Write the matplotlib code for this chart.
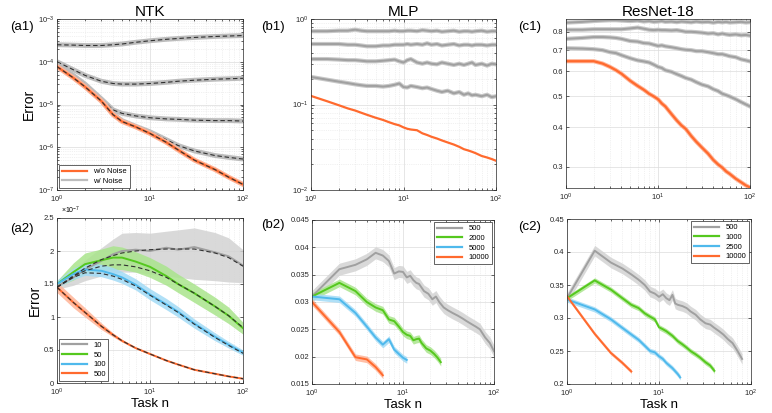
import numpy as np
import matplotlib
matplotlib.use('Agg')
import matplotlib.pyplot as plt
from matplotlib.ticker import FixedLocator, NullFormatter, FormatStrFormatter, LogLocator

plt.rcParams['font.family'] = ['Liberation Sans', 'DejaVu Sans']
plt.rcParams['mathtext.fontset'] = 'custom'
plt.rcParams['mathtext.rm'] = 'Liberation Sans'

ORANGE = '#ff6a2e'
GREEN = '#55c81e'
BLUE = '#4fb9ec'
GRAY = '#a0a0a0'

# ---------------- (a1) NTK, noise levels ----------------
a1_x = [1, 1.5, 2, 3, 4, 5, 7, 10, 15, 20, 30, 50, 70, 100]
a1_clean = [7.7e-5, 4.2e-5, 2.6e-5, 1.2e-5, 5.8e-6, 4.0e-6, 3.0e-6, 2.1e-6,
            1.3e-6, 8.7e-7, 5.0e-7, 3.0e-7, 2.0e-7, 1.35e-7]
a1_noise = [
    [2.5e-4, 2.45e-4, 2.4e-4, 2.4e-4, 2.5e-4, 2.6e-4, 2.85e-4, 3.1e-4, 3.35e-4, 3.5e-4, 3.7e-4, 3.9e-4, 4.0e-4, 4.1e-4],
    [1.0e-4, 6.5e-5, 4.8e-5, 3.5e-5, 3.1e-5, 3.0e-5, 3.0e-5, 3.1e-5, 3.3e-5, 3.5e-5, 3.7e-5, 3.9e-5, 4.0e-5, 4.1e-5],
    [8.5e-5, 4.8e-5, 3.0e-5, 1.35e-5, 7.5e-6, 6.2e-6, 5.4e-6, 4.9e-6, 4.6e-6, 4.5e-6, 4.3e-6, 4.2e-6, 4.2e-6, 4.1e-6],
    [8.2e-5, 4.4e-5, 2.7e-5, 1.25e-5, 6.0e-6, 4.2e-6, 3.1e-6, 2.3e-6, 1.5e-6, 1.1e-6, 8.2e-7, 6.4e-7, 5.8e-7, 5.3e-7],
]

# ---------------- (a2) NTK, widths (units of 1e-7) ----------------
a2_x = [1, 1.5, 2, 3, 4, 5, 7, 10, 15, 20, 30, 50, 70, 100]
a2_labels = ['10', '50', '100', '500']
a2_mean = [
    [1.46, 1.6, 1.72, 1.85, 1.95, 2.0, 2.02, 2.0, 2.05, 2.02, 2.06, 1.98, 1.92, 1.78],
    [1.5, 1.68, 1.8, 1.86, 1.9, 1.9, 1.84, 1.76, 1.62, 1.5, 1.36, 1.16, 1.02, 0.83],
    [1.5, 1.65, 1.72, 1.7, 1.65, 1.6, 1.49, 1.34, 1.19, 1.08, 0.9, 0.7, 0.58, 0.46],
    [1.45, 1.22, 1.07, 0.86, 0.73, 0.64, 0.53, 0.44, 0.34, 0.28, 0.2, 0.14, 0.1, 0.065],
]
a2_low = [
    [1.42, 1.48, 1.55, 1.62, 1.66, 1.68, 1.68, 1.65, 1.62, 1.6, 1.57, 1.55, 1.53, 1.52],
    [1.46, 1.56, 1.66, 1.7, 1.72, 1.72, 1.68, 1.6, 1.48, 1.37, 1.22, 1.03, 0.9, 0.74],
    [1.45, 1.57, 1.63, 1.61, 1.56, 1.51, 1.41, 1.26, 1.11, 1.0, 0.83, 0.64, 0.53, 0.42],
    [1.37, 1.14, 1.0, 0.81, 0.7, 0.62, 0.52, 0.43, 0.335, 0.275, 0.197, 0.137, 0.098, 0.063],
]
a2_high = [
    [1.5, 1.72, 1.86, 2.05, 2.18, 2.27, 2.28, 2.27, 2.3, 2.32, 2.35, 2.28, 2.2, 2.02],
    [1.55, 1.82, 1.97, 2.03, 2.08, 2.06, 1.99, 1.9, 1.77, 1.65, 1.5, 1.3, 1.15, 0.92],
    [1.56, 1.74, 1.82, 1.8, 1.75, 1.69, 1.58, 1.43, 1.28, 1.16, 0.97, 0.76, 0.63, 0.5],
    [1.53, 1.3, 1.14, 0.91, 0.76, 0.66, 0.54, 0.45, 0.345, 0.285, 0.203, 0.143, 0.102, 0.067],
]
a2_theory = [
    [1.45, 1.62, 1.74, 1.87, 1.93, 1.97, 2.0, 2.02, 2.03, 2.03, 2.03, 1.97, 1.9, 1.77],
    [1.45, 1.62, 1.7, 1.77, 1.79, 1.79, 1.76, 1.7, 1.6, 1.5, 1.36, 1.16, 1.02, 0.84],
    [1.45, 1.6, 1.67, 1.66, 1.62, 1.57, 1.47, 1.33, 1.18, 1.07, 0.89, 0.69, 0.57, 0.45],
    [1.45, 1.22, 1.07, 0.86, 0.73, 0.64, 0.53, 0.44, 0.34, 0.28, 0.2, 0.14, 0.1, 0.065],
]

# ---------------- (b1) MLP / (c1) ResNet-18 ----------------
t_x = [1, 1.5, 2, 2.5, 3, 3.5, 4, 5, 6, 7, 8, 9, 10, 11, 12, 14, 16, 18, 20, 23,
       26, 30, 35, 40, 45, 50, 55, 60, 70, 80, 90, 100]
b1_clean = [0.126, 0.109, 0.098, 0.090, 0.085, 0.080, 0.076, 0.070, 0.066, 0.062,
            0.059, 0.057, 0.054, 0.052, 0.051, 0.050, 0.046, 0.044, 0.042, 0.040,
            0.038, 0.036, 0.034, 0.032, 0.030, 0.029, 0.028, 0.027, 0.025, 0.024,
            0.023, 0.022]
b1_noise = [
    [0.72, 0.72, 0.73, 0.73, 0.75, 0.73, 0.72, 0.72, 0.72, 0.72, 0.73, 0.72, 0.72, 0.73, 0.73, 0.72,
     0.74, 0.73, 0.72, 0.73, 0.71, 0.72, 0.73, 0.71, 0.72, 0.72, 0.71, 0.72, 0.73, 0.71, 0.72, 0.72],
    [0.51, 0.51, 0.51, 0.5, 0.5, 0.49, 0.48, 0.48, 0.49, 0.49, 0.5, 0.5, 0.5, 0.51, 0.5, 0.51,
     0.5, 0.52, 0.5, 0.51, 0.49, 0.5, 0.51, 0.49, 0.5, 0.5, 0.49, 0.5, 0.5, 0.49, 0.5, 0.5],
    [0.34, 0.34, 0.335, 0.33, 0.33, 0.325, 0.32, 0.32, 0.325, 0.33, 0.335, 0.32, 0.31, 0.33, 0.34, 0.31,
     0.3, 0.31, 0.3, 0.295, 0.31, 0.3, 0.29, 0.3, 0.29, 0.3, 0.31, 0.29, 0.3, 0.285, 0.3, 0.295],
    [0.21, 0.195, 0.185, 0.178, 0.172, 0.168, 0.165, 0.165, 0.162, 0.165, 0.17, 0.176, 0.16, 0.158, 0.165, 0.16,
     0.155, 0.158, 0.152, 0.145, 0.14, 0.145, 0.135, 0.14, 0.13, 0.135, 0.128, 0.13, 0.125, 0.13, 0.122, 0.125],
]
c1_clean = [0.646, 0.646, 0.646, 0.635, 0.62, 0.605, 0.59, 0.56, 0.54, 0.525, 0.51, 0.5,
            0.49, 0.475, 0.465, 0.44, 0.42, 0.405, 0.395, 0.375, 0.36, 0.345, 0.33, 0.315,
            0.305, 0.298, 0.29, 0.285, 0.275, 0.268, 0.262, 0.258]
c1_noise = [
    [0.855, 0.86, 0.865, 0.868, 0.87, 0.87, 0.868, 0.865, 0.868, 0.862, 0.865, 0.86, 0.862, 0.865, 0.86, 0.862,
     0.858, 0.862, 0.86, 0.857, 0.862, 0.858, 0.86, 0.855, 0.86, 0.857, 0.86, 0.856, 0.858, 0.86, 0.856, 0.858],
    [0.812, 0.812, 0.815, 0.815, 0.815, 0.815, 0.815, 0.82, 0.825, 0.818, 0.812, 0.81, 0.812, 0.81, 0.81, 0.808,
     0.81, 0.805, 0.8, 0.8, 0.798, 0.795, 0.79, 0.792, 0.785, 0.79, 0.785, 0.782, 0.785, 0.78, 0.782, 0.778],
    [0.76, 0.765, 0.77, 0.77, 0.768, 0.765, 0.76, 0.748, 0.745, 0.737, 0.735, 0.728, 0.722, 0.725, 0.72, 0.715,
     0.71, 0.705, 0.702, 0.7, 0.695, 0.695, 0.69, 0.685, 0.68, 0.68, 0.675, 0.67, 0.665, 0.655, 0.65, 0.645],
    [0.71, 0.708, 0.705, 0.7, 0.69, 0.685, 0.675, 0.66, 0.65, 0.645, 0.64, 0.63, 0.62, 0.615, 0.605, 0.598,
     0.588, 0.58, 0.572, 0.565, 0.555, 0.545, 0.538, 0.527, 0.52, 0.51, 0.505, 0.5, 0.49, 0.48, 0.472, 0.465],
]

# ---------------- (b2) MLP, sample sizes ----------------
b2_labels = ['500', '2000', '5000', '10000']
b2_x = [
    [1, 2, 3, 4, 5, 6, 7, 8, 9, 10, 11, 12, 13, 14, 15, 17, 19, 21, 23, 25, 28, 31, 35, 40, 45, 50, 56, 63, 70, 80, 90, 100],
    [1, 2, 3, 4, 5, 6, 7, 8, 9, 10, 11, 12, 13, 14, 15, 16, 17, 18, 20, 22, 24, 26],
    [1, 2, 3, 4, 5, 6, 7, 8, 9, 10, 11],
    [1, 2, 3, 4, 5, 6],
]
b2_y = [
    [0.031, 0.036, 0.0368, 0.0378, 0.039, 0.0385, 0.0375, 0.0352, 0.0356, 0.0355, 0.0345, 0.0348, 0.034, 0.0335,
     0.0333, 0.032, 0.0315, 0.0305, 0.031, 0.030, 0.029, 0.0285, 0.028, 0.0275, 0.027, 0.0265, 0.026, 0.0255,
     0.025, 0.0235, 0.0225, 0.021],
    [0.031, 0.0335, 0.032, 0.030, 0.029, 0.0285, 0.0268, 0.0265, 0.0255, 0.0245, 0.024, 0.0238, 0.023, 0.0232,
     0.0233, 0.0225, 0.022, 0.0215, 0.0211, 0.0205, 0.0198, 0.019],
    [0.031, 0.0305, 0.028, 0.0255, 0.0235, 0.0222, 0.0232, 0.0213, 0.0205, 0.0198, 0.0194],
    [0.030, 0.0245, 0.0199, 0.0195, 0.0181, 0.0166],
]
b2_band = [0.0011, 0.0007, 0.0006, 0.0006]

# ---------------- (c2) ResNet-18, sample sizes ----------------
c2_labels = ['500', '1000', '2500', '10000']
c2_x = [
    [1, 2, 3, 4, 5, 6, 7, 8, 9, 10, 11, 12, 13, 14, 15, 16, 18, 20, 22, 25, 28, 32, 36, 40, 45, 50, 56, 63, 70, 80],
    [1, 2, 3, 4, 5, 6, 7, 8, 9, 10, 11, 12, 14, 16, 18, 20, 22, 25, 28, 32, 36, 40],
    [1, 2, 3, 4, 5, 6, 7, 8, 9, 10, 11, 12, 14, 16, 17],
    [1, 2, 3, 4, 5],
]
c2_y = [
    [0.33, 0.402, 0.384, 0.375, 0.366, 0.358, 0.35, 0.34, 0.337, 0.332, 0.336, 0.33, 0.327, 0.335, 0.322,
     0.32, 0.318, 0.315, 0.31, 0.305, 0.298, 0.292, 0.29, 0.285, 0.28, 0.275, 0.268, 0.262, 0.252, 0.238],
    [0.33, 0.357, 0.343, 0.33, 0.32, 0.315, 0.307, 0.302, 0.298, 0.286, 0.283, 0.28, 0.273, 0.265, 0.26,
     0.255, 0.25, 0.245, 0.24, 0.233, 0.228, 0.22],
    [0.328, 0.313, 0.298, 0.285, 0.275, 0.267, 0.258, 0.25, 0.248, 0.242, 0.238, 0.232, 0.224, 0.215, 0.21],
    [0.333, 0.276, 0.247, 0.232, 0.219],
]
c2_band = [0.008, 0.004, 0.004, 0.003]

colors4 = [GRAY, GREEN, BLUE, ORANGE]
bands4 = ['#d3d3d3', '#a9e48c', '#a3dbf6', '#ffb497']

W, H = 772, 413
fig = plt.figure(figsize=(W / 100, H / 100), dpi=100)


def box(l, t, r, b):
    return fig.add_axes([l / W, 1 - b / H, (r - l) / W, (b - t) / H])


ax_a1 = box(57, 19, 243, 190)
ax_b1 = box(311, 19, 496, 190)
ax_c1 = box(566, 19, 750, 188)
ax_a2 = box(57, 218, 243, 383)
ax_b2 = box(312, 220, 494, 384)
ax_c2 = box(567, 219, 751, 384)


def style(ax, logy):
    ax.set_xscale('log')
    if logy:
        ax.set_yscale('log')
    ax.set_xlim(1, 100)
    ax.tick_params(which='both', direction='in', top=True, right=True, labelsize=5.5,
                   width=0.5, colors='#262626', pad=2)
    ax.tick_params(axis='x', which='both', pad=3)
    ax.tick_params(which='major', length=2.5)
    ax.tick_params(which='minor', length=1.5)
    ax.grid(True, which='major', color='#dcdcdc', lw=0.5)
    ax.grid(True, which='minor', axis='x', color='#e4e4e4', lw=0.5, ls=':')
    if logy:
        ax.grid(True, which='minor', axis='y', color='#e4e4e4', lw=0.5, ls=':')
    for s in ax.spines.values():
        s.set_linewidth(0.5)
        s.set_color('#262626')
    ax.set_axisbelow(True)


for ax in [ax_a1, ax_b1, ax_c1]:
    style(ax, True)
for ax in [ax_a2, ax_b2, ax_c2]:
    style(ax, False)

# (a1)
for ys in a1_noise:
    ax_a1.plot(a1_x, ys, color='#bdbdbd', lw=3.5, solid_capstyle='butt')
    ax_a1.plot(a1_x, ys, color='#303030', lw=0.8, dashes=(4, 2.5))
ax_a1.plot(a1_x, a1_clean, color='#ffb497', lw=3.5)
ax_a1.plot(a1_x, a1_clean, color=ORANGE, lw=1.6)
ax_a1.plot(a1_x, a1_clean, color='#303030', lw=0.8, dashes=(4, 2.5))
ax_a1.set_ylim(1e-7, 1e-3)
ax_a1.yaxis.set_major_locator(LogLocator(base=10, numticks=10))
h1, = ax_a1.plot([], [], color=ORANGE, lw=1.6, label='w/o Noise')
h2, = ax_a1.plot([], [], color='#bdbdbd', lw=1.6, label='w/ Noise')
ax_a1.legend(handles=[h1, h2], loc='lower left', fontsize=5.5, frameon=True, fancybox=False,
             edgecolor='#262626', framealpha=1, handlelength=3.3, borderpad=0.35,
             labelspacing=0.3, borderaxespad=0.3).get_frame().set_linewidth(0.5)

# (a2)
for i in range(4):
    ax_a2.fill_between(a2_x, a2_low[i], a2_high[i], color=bands4[i], lw=0, alpha=0.85)
for i in range(4):
    ax_a2.plot(a2_x, a2_mean[i], color=colors4[i], lw=1.4, label=a2_labels[i])
for i in range(4):
    ax_a2.plot(a2_x, a2_theory[i], color='#303030', lw=0.8, dashes=(4, 2.5))
ax_a2.set_ylim(0, 2.5)
ax_a2.set_yticks([0, 0.5, 1, 1.5, 2, 2.5])
ax_a2.yaxis.set_major_formatter(FormatStrFormatter('%g'))
ax_a2.text(0.02, 1.01, r'$\times10^{-7}$', transform=ax_a2.transAxes, fontsize=5, ha='left', va='bottom')
leg = ax_a2.legend(loc='lower left', fontsize=5.5, frameon=True, fancybox=False, edgecolor='#262626',
                   framealpha=1, handlelength=3.3, borderpad=0.35, labelspacing=0.3, borderaxespad=0.3)
leg.get_frame().set_linewidth(0.5)
for ln in leg.get_lines():
    ln.set_linewidth(1.6)

# (b1)
for ys in b1_noise:
    ax_b1.plot(t_x, ys, color='#c8c8c8', lw=3.0)
    ax_b1.plot(t_x, ys, color=GRAY, lw=1.4)
ax_b1.plot(t_x, b1_clean, color=ORANGE, lw=1.6)
ax_b1.set_ylim(1e-2, 1)

# (c1)
for ys in c1_noise:
    ax_c1.plot(t_x, ys, color='#c8c8c8', lw=3.0)
    ax_c1.plot(t_x, ys, color=GRAY, lw=1.4)
ax_c1.plot(t_x, c1_clean, color='#ffb497', lw=3.0)
ax_c1.plot(t_x, c1_clean, color=ORANGE, lw=1.6)
ax_c1.set_ylim(0.257, 0.878)
ax_c1.yaxis.set_major_locator(FixedLocator([0.3, 0.4, 0.5, 0.6, 0.7, 0.8]))
ax_c1.yaxis.set_major_formatter(FormatStrFormatter('%g'))
ax_c1.yaxis.set_minor_formatter(NullFormatter())


def band_panel(ax, xs, ys, bands, labels):
    for i in range(4):
        lo = [v - bands[i] for v in ys[i]]
        hi = [v + bands[i] for v in ys[i]]
        ax.fill_between(xs[i], lo, hi, color=bands4[i], lw=0, alpha=0.85)
    for i in range(4):
        ax.plot(xs[i], ys[i], color=colors4[i], lw=1.4, label=labels[i])
    leg = ax.legend(loc='upper right', fontsize=5.5, frameon=True, fancybox=False, edgecolor='#262626',
                    framealpha=1, handlelength=3.3, borderpad=0.35, labelspacing=0.3, borderaxespad=0.3)
    leg.get_frame().set_linewidth(0.5)
    for ln in leg.get_lines():
        ln.set_linewidth(1.6)


band_panel(ax_b2, b2_x, b2_y, b2_band, b2_labels)
ax_b2.set_ylim(0.015, 0.045)
ax_b2.set_yticks([0.015, 0.02, 0.025, 0.03, 0.035, 0.04, 0.045])
ax_b2.yaxis.set_major_formatter(FormatStrFormatter('%g'))

band_panel(ax_c2, c2_x, c2_y, c2_band, c2_labels)
ax_c2.set_ylim(0.2, 0.45)
ax_c2.set_yticks([0.2, 0.25, 0.3, 0.35, 0.4, 0.45])
ax_c2.yaxis.set_major_formatter(FormatStrFormatter('%g'))

# text
ax_a1.set_title('NTK', fontsize=11, pad=2)
ax_b1.set_title('MLP', fontsize=11, pad=2)
ax_c1.set_title('ResNet-18', fontsize=11, pad=2)
ax_a1.set_ylabel('Error', fontsize=10, labelpad=1)
ax_a2.set_ylabel('Error', fontsize=10, labelpad=1)
for ax in [ax_a2, ax_b2, ax_c2]:
    ax.set_xlabel('Task n', fontsize=9.5, labelpad=-0.5)

for lab, x, y in [('(a1)', 10, 27), ('(a2)', 10, 229), ('(b1)', 261, 27),
                  ('(b2)', 261, 225), ('(c1)', 518, 27), ('(c2)', 518, 227)]:
    fig.text(x / W, 1 - y / H, lab, fontsize=9.5, ha='left', va='center')

fig.savefig('out.png', dpi=100)
